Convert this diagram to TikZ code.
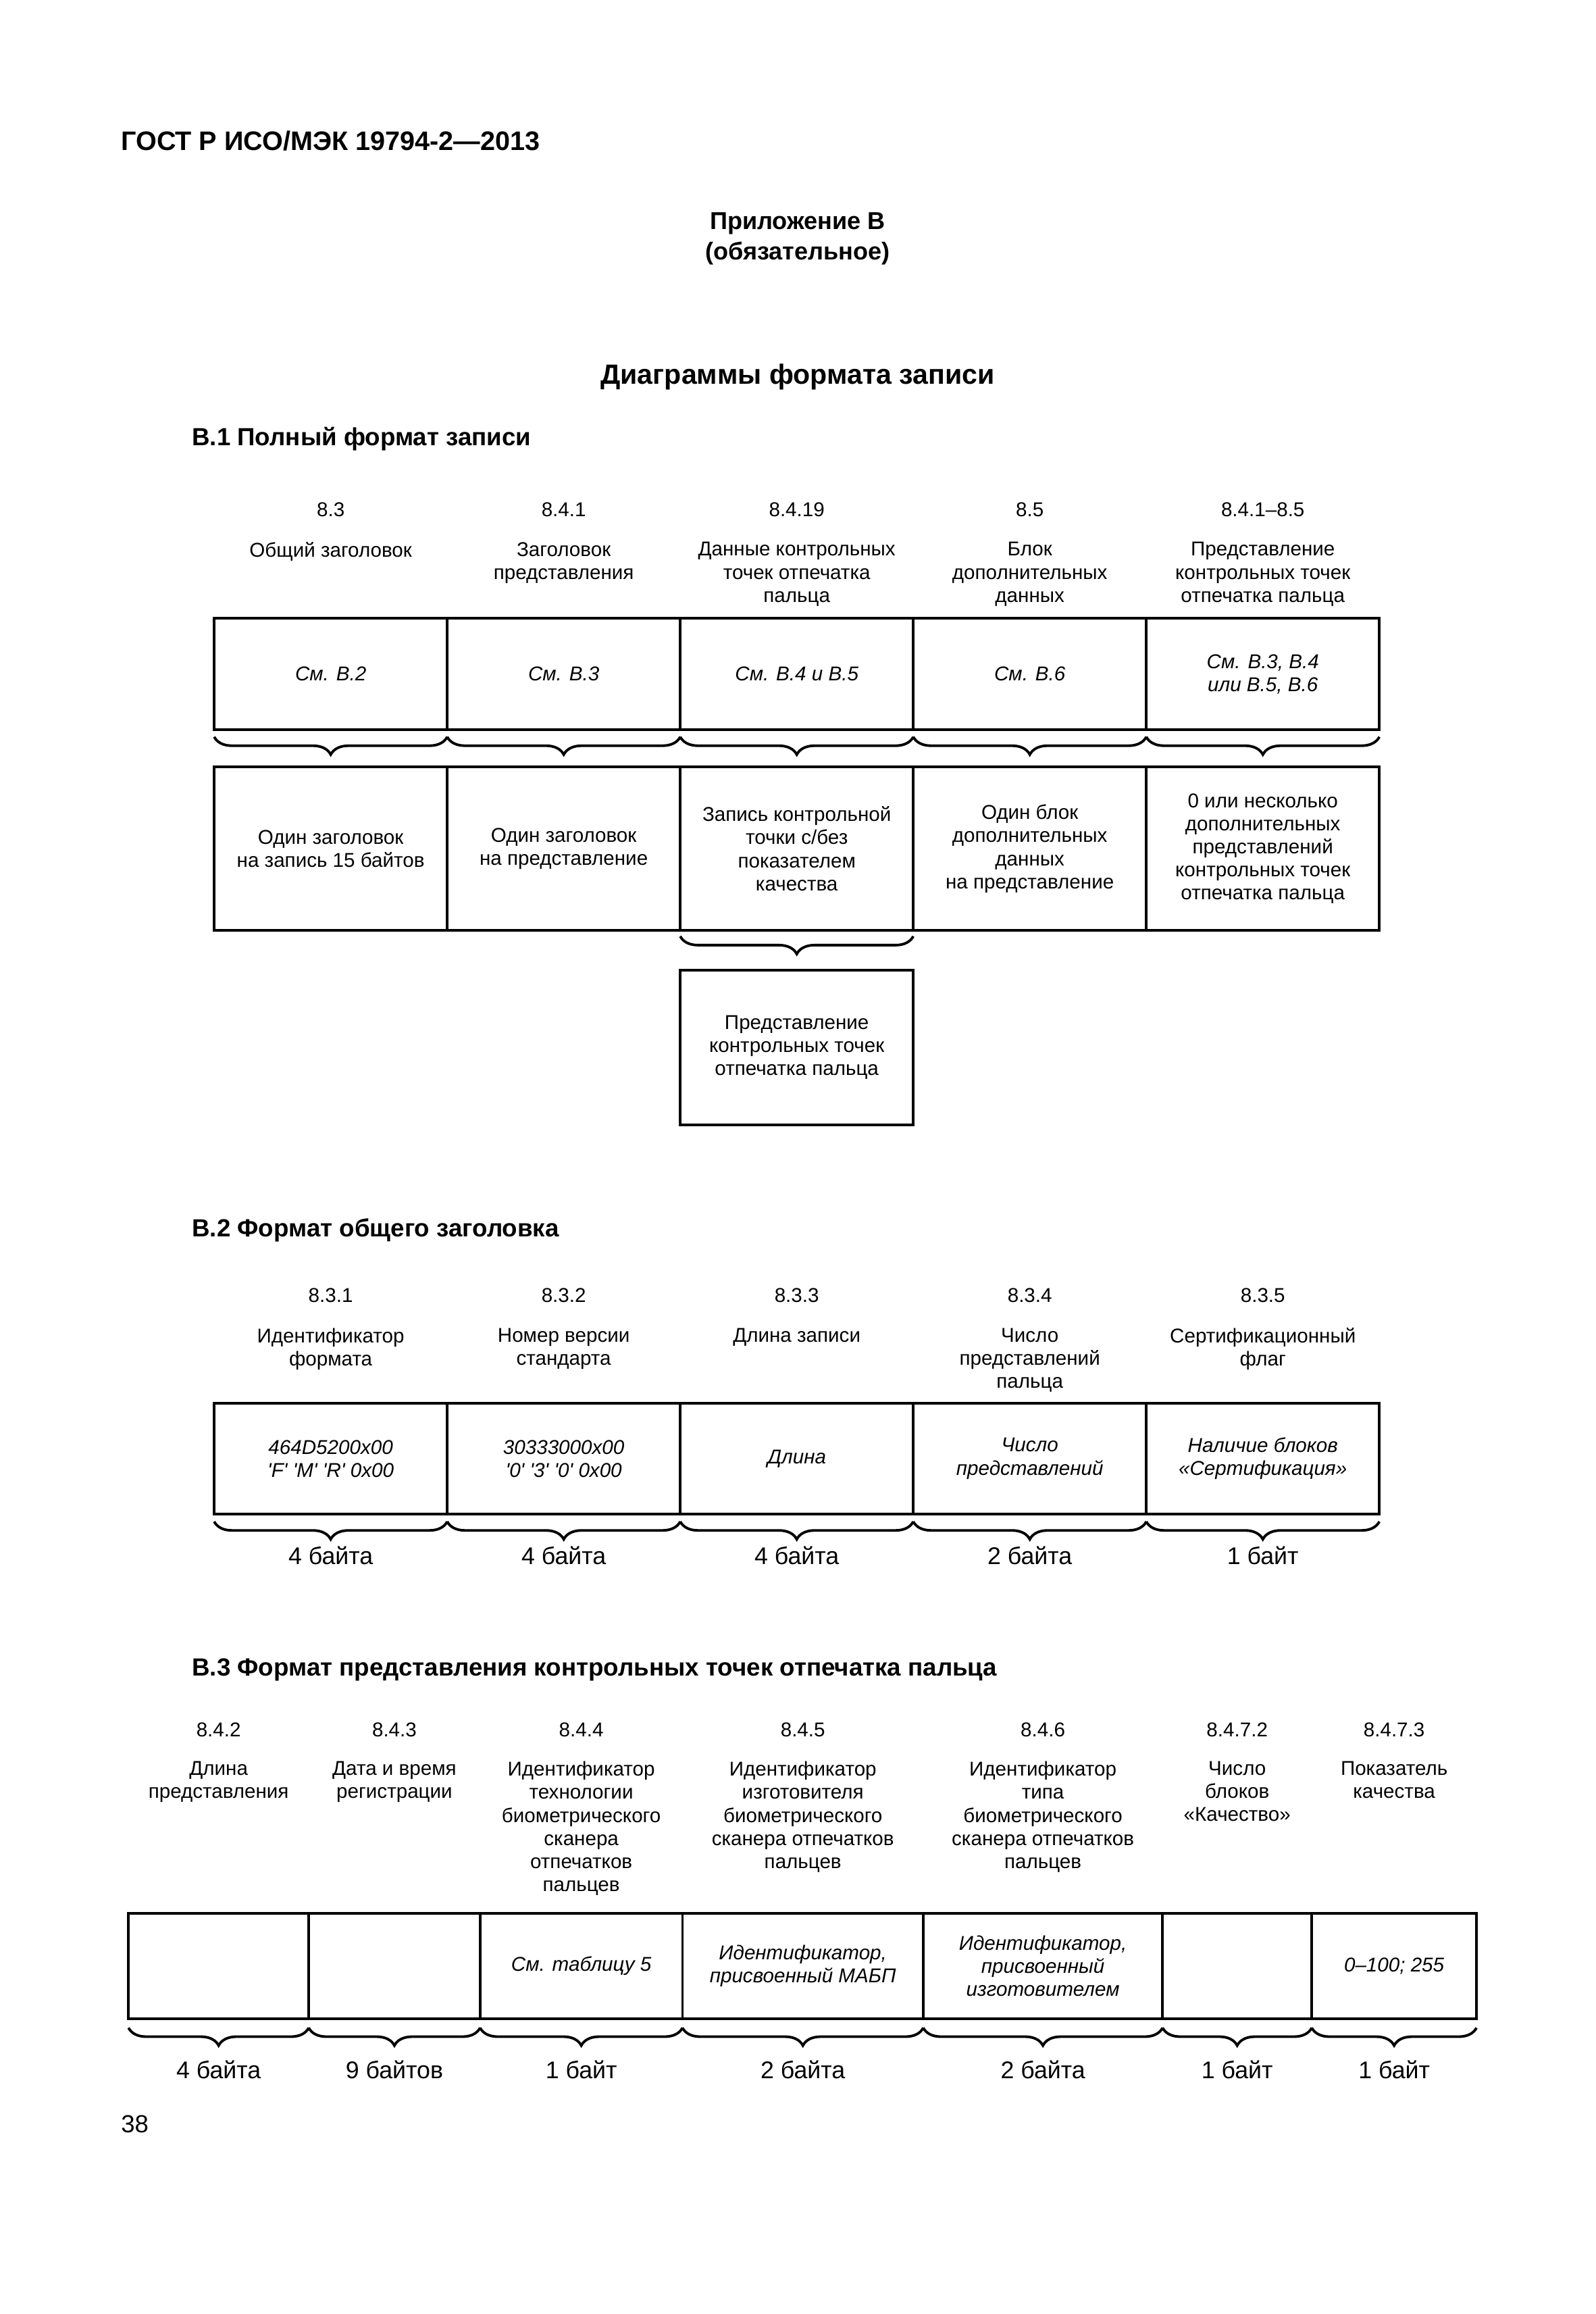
\documentclass[tikz,border=0pt]{standalone}
\usepackage{fontspec}
\setmainfont{Liberation Sans}
\usetikzlibrary{positioning, decorations.pathreplacing}

\newcommand\txtsmall{\fontsize{7.7}{8.9}\selectfont}
\newcommand\txtbytes{\fontsize{9.3}{11}\selectfont}

\begin{document}
\begin{tikzpicture}[x=0.2mm, y=-0.2mm,
     node distance = 5mm and 0mm,
every node/.style = {inner sep=0pt, outer sep=0pt},
       dbox/.style = {rectangle, draw, line width=1pt, align=center,
                      font=\txtsmall, minimum width=31.55mm},
       ibox/.style = {dbox, font=\txtsmall\itshape},
         hA/.style = {minimum height=15.1mm},
         hB/.style = {minimum height=22.1mm},
         hC/.style = {minimum height=15.04mm},
         hD/.style = {minimum height=14.3mm},
        num/.style = {font=\txtsmall},
        lbl/.style = {font=\txtsmall, align=center},
      bytes/.style = {font=\txtbytes},
        brc/.style = {decorate, line width=1pt,
                      decoration={brace, mirror, amplitude=2.4mm}},
        ttl/.style = {font=\bfseries\fontsize{9.55}{11}\selectfont, anchor=base west}
                        ]
\useasboundingbox (0,0) rectangle (1080,1566);

% page head
\node (gost) [anchor=base west, font=\bfseries\fontsize{10.3}{12}\selectfont]
      at (82,101.5) {ГОСТ Р ИСО/МЭК 19794-2—2013};
\node (app)  [anchor=base, font=\bfseries\fontsize{9.4}{11}\selectfont]
      at (540,155) {Приложение В};
\node (obl)  [anchor=base, font=\bfseries\fontsize{9.4}{11}\selectfont]
      at (540,176) {(обязательное)};
\node (head) [anchor=base, font=\bfseries\fontsize{10.7}{13}\selectfont]
      at (540,260) {Диаграммы формата записи};

% B.1
\node (t1) [ttl] at (130,301.5) {В.1 Полный формат записи};
\node (a1) [ibox, hA, anchor=north west] at (145,418.4) {См. В.2};
\node (a2) [ibox, hA, right=0mm of a1] {См. В.3};
\node (a3) [ibox, hA, right=0mm of a2] {См. В.4 и В.5};
\node (a4) [ibox, hA, right=0mm of a3] {См. В.6};
\node (a5) [ibox, hA, right=0mm of a4] {См. В.3, В.4\\или В.5, В.6};

\node (na1) [num, above=13.7mm of a1] {8.3};
\node (na2) [num, above=13.7mm of a2] {8.4.1};
\node (na3) [num, above=13.7mm of a3] {8.4.19};
\node (na4) [num, above=13.7mm of a4] {8.5};
\node (na5) [num, above=13.7mm of a5] {8.4.1–8.5};
\node (la1) [lbl, below=3.4mm of na1] {Общий заголовок};
\node (la2) [lbl, below=3.4mm of na2] {Заголовок\\представления};
\node (la3) [lbl, below=3.4mm of na3] {Данные контрольных\\точек отпечатка\\пальца};
\node (la4) [lbl, below=3.4mm of na4] {Блок\\дополнительных\\данных};
\node (la5) [lbl, below=3.4mm of na5] {Представление\\контрольных точек\\отпечатка пальца};

\node (b1) [dbox, hB, below=5.04mm of a1] {Один заголовок\\на запись 15 байтов};
\node (b2) [dbox, hB, right=0mm of b1] {Один заголовок\\на представление};
\node (b3) [dbox, hB, right=0mm of b2] {Запись контрольной\\точки с/без\\показателем\\качества};
\node (b4) [dbox, hB, right=0mm of b3] {Один блок\\дополнительных\\данных\\на представление};
\node (b5) [dbox, hB, right=0mm of b4] {0 или несколько\\дополнительных\\представлений\\контрольных точек\\отпечатка пальца};
\node (rep) [dbox, minimum height=20.9mm, below=5.4mm of b3]
      {Представление\\контрольных точек\\отпечатка пальца};

\draw[brc] ([yshift=-0.95mm]a1.south west) -- ([yshift=-0.95mm]a1.south east);
\draw[brc] ([yshift=-0.95mm]a2.south west) -- ([yshift=-0.95mm]a2.south east);
\draw[brc] ([yshift=-0.95mm]a3.south west) -- ([yshift=-0.95mm]a3.south east);
\draw[brc] ([yshift=-0.95mm]a4.south west) -- ([yshift=-0.95mm]a4.south east);
\draw[brc] ([yshift=-0.95mm]a5.south west) -- ([yshift=-0.95mm]a5.south east);
\draw[brc] ([yshift=-0.8mm]b3.south west) -- ([yshift=-0.8mm]b3.south east);

% B.2
\node (t2) [ttl] at (130,837) {В.2 Формат общего заголовка};
\node (c1) [ibox, hC, anchor=north west] at (145,949.5) {464D5200x00\\\textquotesingle F\textquotesingle{} \textquotesingle M\textquotesingle{} \textquotesingle R\textquotesingle{} 0x00};
\node (c2) [ibox, hC, right=0mm of c1] {30333000x00\\\textquotesingle 0\textquotesingle{} \textquotesingle 3\textquotesingle{} \textquotesingle 0\textquotesingle{} 0x00};
\node (c3) [ibox, hC, right=0mm of c2] {Длина};
\node (c4) [ibox, hC, right=0mm of c3] {Число\\представлений};
\node (c5) [ibox, hC, right=0mm of c4] {Наличие блоков\\«Сертификация»};

\node (nc1) [num, above=13.6mm of c1] {8.3.1};
\node (nc2) [num, above=13.6mm of c2] {8.3.2};
\node (nc3) [num, above=13.6mm of c3] {8.3.3};
\node (nc4) [num, above=13.6mm of c4] {8.3.4};
\node (nc5) [num, above=13.6mm of c5] {8.3.5};
\node (lc1) [lbl, below=3.45mm of nc1] {Идентификатор\\формата};
\node (lc2) [lbl, below=3.45mm of nc2] {Номер версии\\стандарта};
\node (lc3) [lbl, below=3.45mm of nc3] {Длина записи};
\node (lc4) [lbl, below=3.45mm of nc4] {Число\\представлений\\пальца};
\node (lc5) [lbl, below=3.45mm of nc5] {Сертификационный\\флаг};

\draw[brc] ([yshift=-1mm]c1.south west) -- ([yshift=-1mm]c1.south east);
\draw[brc] ([yshift=-1mm]c2.south west) -- ([yshift=-1mm]c2.south east);
\draw[brc] ([yshift=-1mm]c3.south west) -- ([yshift=-1mm]c3.south east);
\draw[brc] ([yshift=-1mm]c4.south west) -- ([yshift=-1mm]c4.south east);
\draw[brc] ([yshift=-1mm]c5.south west) -- ([yshift=-1mm]c5.south east);
\node (yc1) [bytes, below=4.4mm of c1] {4 байта};
\node (yc2) [bytes, below=4.4mm of c2] {4 байта};
\node (yc3) [bytes, below=4.4mm of c3] {4 байта};
\node (yc4) [bytes, below=4.4mm of c4] {2 байта};
\node (yc5) [bytes, below=4.4mm of c5] {1 байт};

% B.3
\node (t3) [ttl] at (130,1134) {В.3 Формат представления контрольных точек отпечатка пальца};
\node (d1) [dbox, hD, minimum width=24.4mm, anchor=north west] at (87,1294.8) {};
\node (d2) [dbox, hD, minimum width=23.2mm, right=0mm of d1] {};
\node (d3) [ibox, hD, minimum width=27.4mm, right=0mm of d2] {См. таблицу 5};
\node (d4) [ibox, hD, minimum width=32.6mm, right=0mm of d3] {Идентификатор,\\присвоенный МАБП};
\node (d5) [ibox, hD, minimum width=32.4mm, right=0mm of d4] {Идентификатор,\\присвоенный\\изготовителем};
\node (d6) [dbox, hD, minimum width=20.2mm, right=0mm of d5] {};
\node (d7) [ibox, hD, minimum width=22.3mm, right=0mm of d6] {0–100; 255};

\node (nd1) [num, above=23.9mm of d1] {8.4.2};
\node (nd2) [num, above=23.9mm of d2] {8.4.3};
\node (nd3) [num, above=23.9mm of d3] {8.4.4};
\node (nd4) [num, above=23.9mm of d4] {8.4.5};
\node (nd5) [num, above=23.9mm of d5] {8.4.6};
\node (nd6) [num, above=23.9mm of d6] {8.4.7.2};
\node (nd7) [num, above=23.9mm of d7] {8.4.7.3};
\node (ld1) [lbl, below=3.35mm of nd1] {Длина\\представления};
\node (ld2) [lbl, below=3.35mm of nd2] {Дата и время\\регистрации};
\node (ld3) [lbl, below=3.35mm of nd3] {Идентификатор\\технологии\\биометрического\\сканера\\отпечатков\\пальцев};
\node (ld4) [lbl, below=3.35mm of nd4] {Идентификатор\\изготовителя\\биометрического\\сканера отпечатков\\пальцев};
\node (ld5) [lbl, below=3.35mm of nd5] {Идентификатор\\типа\\биометрического\\сканера отпечатков\\пальцев};
\node (ld6) [lbl, below=3.35mm of nd6] {Число\\блоков\\«Качество»};
\node (ld7) [lbl, below=3.35mm of nd7] {Показатель\\качества};

\draw[brc] ([yshift=-1.2mm]d1.south west) -- ([yshift=-1.2mm]d1.south east);
\draw[brc] ([yshift=-1.2mm]d2.south west) -- ([yshift=-1.2mm]d2.south east);
\draw[brc] ([yshift=-1.2mm]d3.south west) -- ([yshift=-1.2mm]d3.south east);
\draw[brc] ([yshift=-1.2mm]d4.south west) -- ([yshift=-1.2mm]d4.south east);
\draw[brc] ([yshift=-1.2mm]d5.south west) -- ([yshift=-1.2mm]d5.south east);
\draw[brc] ([yshift=-1.2mm]d6.south west) -- ([yshift=-1.2mm]d6.south east);
\draw[brc] ([yshift=-1.2mm]d7.south west) -- ([yshift=-1.2mm]d7.south east);
\node (yd1) [bytes, below=5.6mm of d1] {4 байта};
\node (yd2) [bytes, below=5.6mm of d2] {9 байтов};
\node (yd3) [bytes, below=5.6mm of d3] {1 байт};
\node (yd4) [bytes, below=5.6mm of d4] {2 байта};
\node (yd5) [bytes, below=5.6mm of d5] {2 байта};
\node (yd6) [bytes, below=5.6mm of d6] {1 байт};
\node (yd7) [bytes, below=5.6mm of d7] {1 байт};

% page number
\node (page) [anchor=base west, font=\fontsize{9.5}{11}\selectfont] at (82,1443) {38};
\end{tikzpicture}
\end{document}
